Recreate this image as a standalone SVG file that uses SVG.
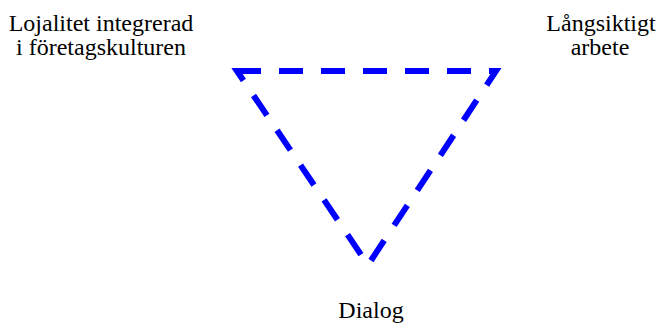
<svg xmlns="http://www.w3.org/2000/svg" width="657" height="325" viewBox="0 0 657 325">
<style>
.lbl{font-family:"Liberation Serif","Times New Roman",serif;font-size:24px;fill:#000;text-anchor:middle}
.edge{fill:none;stroke:#0000ff;stroke-width:6;stroke-dasharray:24 18;stroke-linejoin:miter}
</style>
<rect width="657" height="325" fill="#fff"/>
<g id="connectors">
<path class="edge" d="M237,71 L496,71 L368,265 Z"/>
</g>
<g id="node-lojalitet">
<text class="lbl" x="101" y="31">Lojalitet integrerad</text>
<text class="lbl" x="101" y="55">i företagskulturen</text>
</g>
<g id="node-langsiktigt">
<text class="lbl" x="601" y="31">Långsiktigt</text>
<text class="lbl" x="600" y="55">arbete</text>
</g>
<g id="node-dialog">
<text class="lbl" x="371" y="318">Dialog</text>
</g>
</svg>
